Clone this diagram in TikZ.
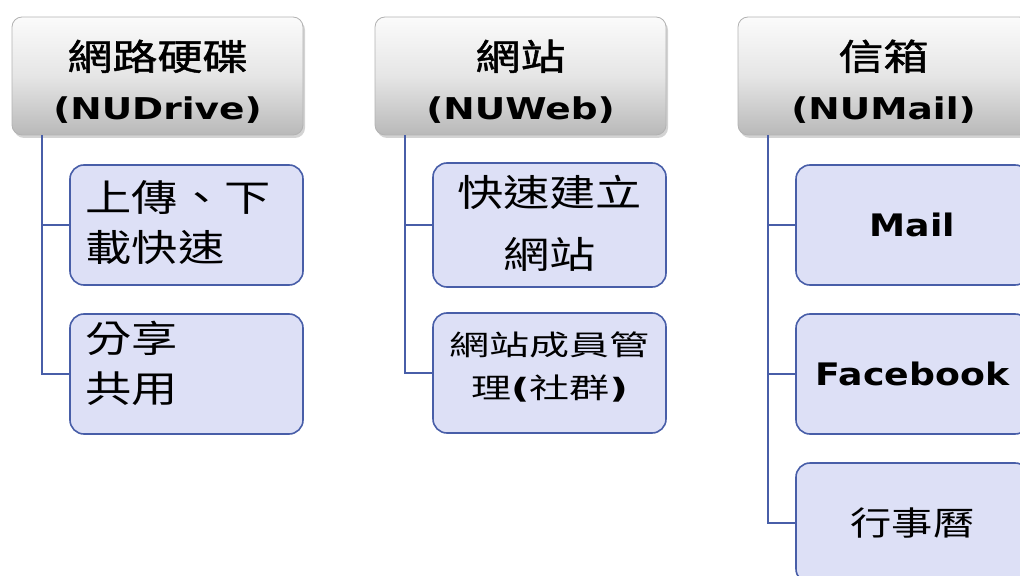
\documentclass[tikz,border=0pt]{standalone}
\usepackage{fontspec}
\usepackage{graphicx}
\usepackage{tikz}
\usetikzlibrary{shadows}
\setmainfont{DejaVu Sans}
\newfontfamily\cjk{Noto Sans CJK TC}
\newfontfamily\cjkhead[FakeBold=1.2]{Noto Sans CJK TC}
\definecolor{boxblue}{RGB}{221,224,246}
\definecolor{lineblue}{RGB}{72,94,168}
\newcommand{\wide}[2][1.25]{\scalebox{#1}[1]{#2}}
\newcommand{\lift}[2]{\raisebox{#1}[\height][\depth]{#2}}
\newcommand{\headtxt}[2]{\lift{-4.5pt}{\wide{\begin{tabular}{@{}c@{}}{\cjkhead #1}\\
  {\bfseries\fontsize{15}{25}\selectfont #2}\end{tabular}}}}
\tikzset{
  head/.style = {rectangle, rounded corners=5pt, draw=gray!60, thin,
    top color=gray!3, bottom color=gray!55, middle color=gray!20,
    minimum width=145.5pt, minimum height=59pt, inner sep=0pt,
    font=\fontsize{18}{25}\selectfont,
    drop shadow={opacity=0.35, shadow xshift=1pt, shadow yshift=-1.5pt}},% top level box
  leaf/.style = {rectangle, rounded corners=7pt, draw=lineblue, line width=0.8pt,
    fill=boxblue, minimum width=116.5pt, minimum height=60pt, inner sep=0pt},% second level box
  trunk/.style = {draw=lineblue, line width=1pt},
}

\begin{document}
\begin{tikzpicture}[x=0.5pt,y=-0.5pt]
  \useasboundingbox (0,0) rectangle (1020,576);
  \clip (0,0) rectangle (1020,576);

  % top level
  \node[head] (hdDrive) at (157.5,76) {\headtxt{網路硬碟}{(NUDrive)}};
  \node[head] (hdWeb) at (520.5,76) {\headtxt{網站}{(NUWeb)}};
  \node[head] (hdMail) at (883.5,76) {\headtxt{信箱}{(NUMail)}};

  % NUDrive
  \node[leaf, font=\fontsize{18.5}{25}\selectfont] (drvSpeed) at (186.5,225)
    {\lift{-0.75pt}{\makebox[101pt][l]{\wide{\cjk\begin{tabular}{@{}l@{}}上傳、下\\載快速\end{tabular}}}}};
  \node[leaf, font=\fontsize{18.5}{25}\selectfont] (drvShare) at (186.5,374)
    {\lift{3.5pt}{\makebox[101pt][l]{\wide{\cjk\begin{tabular}{@{}l@{}}分享\\共用\end{tabular}}}}};

  % NUWeb
  \node[leaf, font=\fontsize{18.5}{31}\selectfont] (webBuild) at (549.5,225)
    {\wide{\cjk\begin{tabular}{@{}c@{}}快速建立\\網站\end{tabular}}};
  \node[leaf, font=\fontsize{14}{21.5}\selectfont] (webMember) at (549.5,373)
    {\lift{2.5pt}{\wide[1.43]{\cjk\begin{tabular}{@{}c@{}}網站成員管\\理{\normalfont\bfseries(}社群{\normalfont\bfseries)}\end{tabular}}}};

  % NUMail
  \node[leaf, font=\fontsize{15.5}{18}\selectfont\bfseries] (mailMail) at (912.5,225) {\wide[1.17]{Mail}};
  \node[leaf, font=\fontsize{15.5}{18}\selectfont\bfseries] (mailFb) at (912.5,374) {\wide[1.17]{Facebook}};
  \node[leaf, font=\fontsize{16.5}{20}\selectfont] (mailCal) at (912.5,523) {\wide{\cjk 行事曆}};

  \coordinate (trDrive) at ([xshift=15pt]hdDrive.south west);
  \coordinate (trWeb) at ([xshift=15pt]hdWeb.south west);
  \coordinate (trMail) at ([xshift=15pt]hdMail.south west);

  \draw[trunk] (trDrive) |- (drvSpeed.west);
  \draw[trunk] (trDrive) |- (drvShare.west);
  \draw[trunk] (trWeb) |- (webBuild.west);
  \draw[trunk] (trWeb) |- (webMember.west);
  \draw[trunk] (trMail) |- (mailMail.west);
  \draw[trunk] (trMail) |- (mailFb.west);
  \draw[trunk] (trMail) |- (mailCal.west);
\end{tikzpicture}
\end{document}
